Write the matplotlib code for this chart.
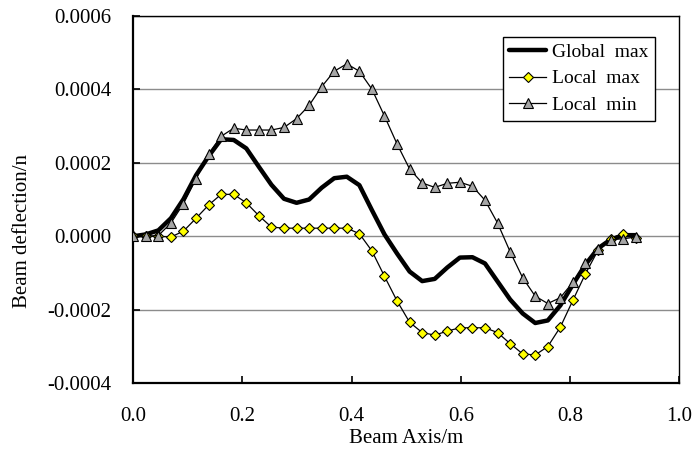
import numpy as np
import matplotlib
matplotlib.use("Agg")
import matplotlib.pyplot as plt

plt.rcParams["font.family"] = ["Liberation Serif", "DejaVu Serif"]
plt.rcParams["axes.unicode_minus"] = False

# === DATA ===
beam_x = [round(0.023 * i, 3) for i in range(41)]

global_max = [0.0, 0.000005, 0.000016, 0.000049, 0.000101, 0.000166, 0.000218, 0.000264,
              0.000262, 0.000239, 0.000189, 0.000140, 0.000102, 0.000091, 0.000100,
              0.000132, 0.000158, 0.000162, 0.000139, 0.000071, 0.000005, -0.000047,
              -0.000096, -0.000122, -0.000116, -0.000085, -0.000058, -0.000057,
              -0.000074, -0.000123, -0.000172, -0.000210, -0.000236, -0.000229,
              -0.000188, -0.000131, -0.000077, -0.000033, -0.000009, 0.000003, 0.000003]

local_max = [0.0, 0.0, 0.0, -0.000002, 0.000014, 0.000049, 0.000085, 0.000114,
             0.000114, 0.000091, 0.000056, 0.000025, 0.000022, 0.000022, 0.000022,
             0.000022, 0.000022, 0.000022, 0.000007, -0.000040, -0.000109, -0.000176,
             -0.000234, -0.000262, -0.000269, -0.000258, -0.000249, -0.000249,
             -0.000249, -0.000262, -0.000292, -0.000320, -0.000323, -0.000300,
             -0.000247, -0.000174, -0.000102, -0.000038, -0.000007, 0.000007, -0.000004]

local_min = [0.0, 0.0, 0.000002, 0.000036, 0.000089, 0.000156, 0.000223, 0.000272,
             0.000294, 0.000289, 0.000289, 0.000289, 0.000296, 0.000320, 0.000356,
             0.000407, 0.000449, 0.000469, 0.000449, 0.000400, 0.000327, 0.000251,
             0.000183, 0.000145, 0.000133, 0.000144, 0.000147, 0.000136, 0.000098,
             0.000036, -0.000042, -0.000113, -0.000163, -0.000183, -0.000167,
             -0.000125, -0.000074, -0.000036, -0.000009, -0.000007, -0.000002]

x_ticks = [0.0, 0.2, 0.4, 0.6, 0.8, 1.0]
y_ticks = [-0.0004, -0.0002, 0.0, 0.0002, 0.0004, 0.0006]

fig = plt.figure(figsize=(6.94, 4.57), dpi=100)
ax = fig.add_axes([0.192, 0.1613, 0.787, 0.8043])

ax.plot(beam_x, global_max, color="black", linewidth=3.2, label="Global  max", zorder=3,
        solid_joinstyle="round", solid_capstyle="round")
ax.plot(beam_x, local_max, color="black", linewidth=0.9, marker="D", markersize=5.5,
        markerfacecolor="#ffff00", markeredgecolor="black", markeredgewidth=0.8,
        label="Local  max", zorder=4)
ax.plot(beam_x, local_min, color="black", linewidth=0.9, marker="^", markersize=7.5,
        markerfacecolor="#a6a6a6", markeredgecolor="black", markeredgewidth=0.8,
        label="Local  min", zorder=5)

ax.set_xlim(0.0, 1.0)
ax.set_ylim(-0.0004, 0.0006)
ax.set_xticks(x_ticks)
ax.set_yticks(y_ticks)
ax.set_xticklabels([f"{v:.1f}" for v in x_ticks])
ax.set_yticklabels([f"{v:.4f}" for v in y_ticks])
ax.tick_params(axis="both", direction="in", length=5, width=1.2, labelsize=15, colors="black")
ax.tick_params(axis="y", pad=16)
ax.tick_params(axis="x", pad=17)

ax.grid(axis="y", color="#8c8c8c", linewidth=1.0)
ax.set_axisbelow(True)

for side in ["left", "bottom"]:
    ax.spines[side].set_linewidth(1.6)
for side in ["top", "right"]:
    ax.spines[side].set_linewidth(1.0)

ax.set_xlabel("Beam Axis/m", fontsize=15, labelpad=2)
ax.set_ylabel("Beam deflection/n", fontsize=15)
ax.yaxis.set_label_coords(-0.186, 0.414)

leg = ax.legend(loc="upper right", bbox_to_anchor=(0.956, 0.943), fontsize=14,
                frameon=True, fancybox=False, edgecolor="black", framealpha=1.0,
                borderaxespad=0, handlelength=1.9, labelspacing=0.45,
                borderpad=0.35, handletextpad=0.3)
leg.get_frame().set_linewidth(1.0)

fig.savefig("out.png", dpi=100)
